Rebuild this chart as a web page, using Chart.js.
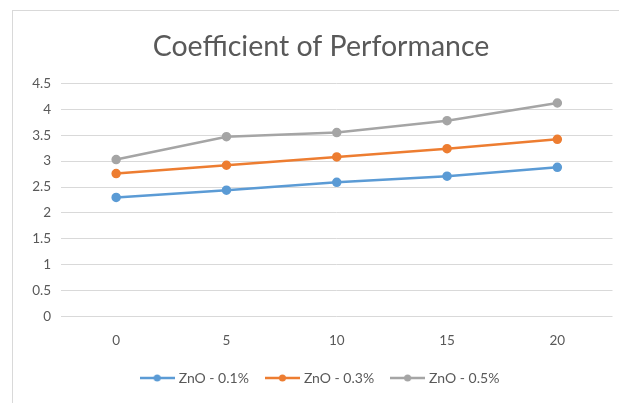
<!DOCTYPE html>
<html>
<head>
<meta charset="utf-8">
<title>Coefficient of Performance</title>
<script src="https://cdn.jsdelivr.net/npm/chart.js@4/dist/chart.umd.min.js"></script>
<style>
  html, body { margin: 0; padding: 0; background: #fff; }
  #wrap { position: relative; width: 619px; height: 403px; overflow: hidden; }
  #frame { position: absolute; left: 12px; top: 10px; width: 700px; height: 500px; border: 1px solid #d9d9d9; }
  #chart { position: absolute; left: 0; top: 0; }
</style>
</head>
<body>
<div id="wrap">
  <div id="frame"></div>
  <canvas id="chart" width="619" height="403"></canvas>
</div>
<script>
// --- data ---
const categories = ['0', '5', '10', '15', '20'];
const seriesNames = ['ZnO - 0.1%', 'ZnO - 0.3%', 'ZnO - 0.5%'];
const zno01 = [2.30, 2.44, 2.59, 2.71, 2.88];
const zno03 = [2.76, 2.92, 3.08, 3.24, 3.42];
const zno05 = [3.03, 3.47, 3.55, 3.78, 4.12];
const colors = ['#5B9BD5', '#ED7D31', '#A5A5A5'];

const textColor = '#595959';
const gridColor = '#d9d9d9';
const fontFamily = 'Lato, "Open Sans", sans-serif';

// legend marker: short line with a dot in the middle (Excel style)
function legendMarker(color) {
    const c = document.createElement('canvas');
    c.width = 35;
    c.height = 10;
    const g = c.getContext('2d');
    g.strokeStyle = color;
    g.lineWidth = 2.5;
    g.beginPath();
    g.moveTo(0, 5);
    g.lineTo(35, 5);
    g.stroke();
    g.fillStyle = color;
    g.beginPath();
    g.arc(17.5, 5, 3.5, 0, Math.PI * 2);
    g.fill();
    return c;
}
const markers = colors.map(legendMarker);

const allSeries = [zno01, zno03, zno05];
const datasets = allSeries.map((values, i) => ({
    label: seriesNames[i],
    data: values,
    borderColor: colors[i],
    backgroundColor: colors[i],
    borderWidth: 2.5,
    pointRadius: 3.5,
    pointBackgroundColor: colors[i],
    pointBorderColor: colors[i],
    tension: 0
}));

const ctx = document.getElementById('chart').getContext('2d');
new Chart(ctx, {
    type: 'line',
    data: { labels: categories, datasets: datasets },
    options: {
        responsive: false,
        animation: false,
        layout: { padding: { left: 26, right: 3, top: 0, bottom: 8 } },
        plugins: {
            title: {
                display: true,
                text: 'Coefficient of Performance',
                color: textColor,
                font: { family: fontFamily, size: 28.5, weight: 'normal' },
                padding: { top: 29.9, bottom: 19.2 }
            },
            legend: {
                position: 'bottom',
                labels: {
                    color: textColor,
                    font: { family: fontFamily, size: 14 },
                    usePointStyle: true,
                    pointStyleWidth: 29,
                    padding: 19,
                    generateLabels: function(chart) {
                        const items = Chart.defaults.plugins.legend.labels.generateLabels(chart);
                        items.forEach((item, i) => { item.pointStyle = markers[i]; });
                        return items;
                    }
                }
            },
            tooltip: { enabled: false }
        },
        scales: {
            x: {
                type: 'category',
                offset: true,
                grid: { display: false, drawTicks: false },
                border: { display: false },
                ticks: {
                    color: textColor,
                    font: { family: fontFamily, size: 13.5 },
                    padding: 15.5
                },
                afterFit: function(scale) { scale.height = 35.3; }
            },
            y: {
                min: 0,
                max: 4.5,
                ticks: {
                    stepSize: 0.5,
                    color: textColor,
                    font: { family: fontFamily, size: 13.5 },
                    padding: 10,
                    callback: function(value) { return String(value); }
                },
                grid: { color: gridColor, lineWidth: 1, drawTicks: false },
                border: { display: false },
                afterFit: function(scale) { scale.width = 35; }
            }
        }
    }
});
</script>
</body>
</html>
